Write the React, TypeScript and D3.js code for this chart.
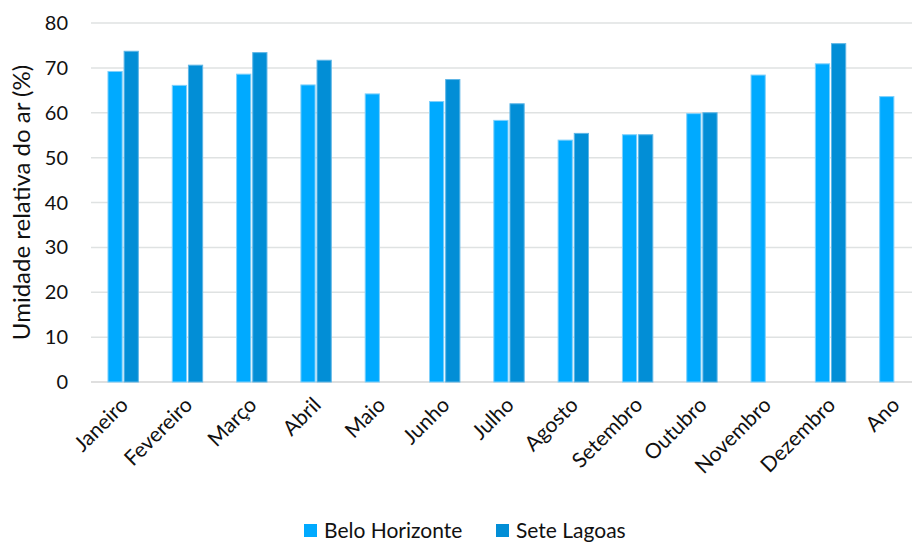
import React from "react";
import * as d3 from "d3";

const categories = [
  "Janeiro", "Fevereiro", "Março", "Abril", "Maio", "Junho", "Julho",
  "Agosto", "Setembro", "Outubro", "Novembro", "Dezembro", "Ano",
];
const beloHorizonte = [69.2, 66.1, 68.6, 66.2, 64.2, 62.5, 58.3, 53.9, 55.1, 59.8, 68.4, 70.9, 63.6];
const seteLagoas: (number | null)[] = [73.7, 70.6, 73.4, 71.7, null, 67.4, 62.0, 55.4, 55.1, 60.0, null, 75.4, null];
const seriesNames = ["Belo Horizonte", "Sete Lagoas"];
const yTicks = [0, 10, 20, 30, 40, 50, 60, 70, 80];

const W = 912;
const H = 543;
const FONT = "Lato, 'Open Sans', sans-serif";
const COLORS = ["#00aaff", "#028ed6"];
const EDGE = ["#7fd0fb", "#5fb6e6"];

export default function App() {
  const margin = { left: 91, right: -15, top: 23, bottom: 161 };
  const x = d3.scaleBand<string>().domain(categories).range([margin.left, W - margin.right]).paddingInner(0).paddingOuter(0);
  const y = d3.scaleLinear().domain([0, 80]).range([H - margin.bottom, margin.top]);
  const inner = d3.scaleBand<string>().domain(seriesNames).range([0, x.bandwidth()]).paddingInner(0.12).paddingOuter(1.05);
  const series = [beloHorizonte, seteLagoas];

  return (
    <svg width={W} height={H} style={{ position: "absolute", left: 0, top: 0, background: "#fff" }} fontFamily={FONT}>
      {yTicks.map((t) => (
        <g key={t}>
          <line x1={margin.left} x2={W} y1={y(t)} y2={y(t)} stroke={t === 0 ? "#d4d4d4" : "#dfe2e2"} strokeWidth={1.5} />
          <text x={68} y={y(t)} dy="0.35em" textAnchor="end" fontSize={20} fill="#111">{t}</text>
        </g>
      ))}
      {series.map((vals, si) =>
        vals.map((v, i) =>
          v == null ? null : (
            <rect
              key={`${si}-${i}`}
              x={(x(categories[i]) as number) + (inner(seriesNames[si]) as number)}
              y={y(v)}
              width={inner.bandwidth()}
              height={y(0) - y(v)}
              fill={COLORS[si]}
              stroke={EDGE[si]}
              strokeWidth={1}
            />
          )
        )
      )}
      {categories.map((c) => {
        const cx = (x(c) as number) + x.bandwidth() / 2;
        return (
          <text
            key={c}
            transform={`translate(${cx + 1},${401}) rotate(-45)`}
            textAnchor="end"
            fontSize={21}
            fill="#111"
            dy="0.35em"
          >
            {c}
          </text>
        );
      })}
      <text
        transform={`translate(30,${(margin.top + H - margin.bottom) / 2}) rotate(-90)`}
        textAnchor="middle"
        fontSize={24}
        fill="#111"
      >
        Umidade relativa do ar (%)
      </text>
      {seriesNames.map((s, i) => {
        const lx = i === 0 ? 304 : 496;
        return (
          <g key={s}>
            <rect x={lx} y={524} width={13} height={13} fill={COLORS[i]} />
            <text x={lx + 20} y={530.5} dy="0.35em" fontSize={21} fill="#111">{s}</text>
          </g>
        );
      })}
    </svg>
  );
}
